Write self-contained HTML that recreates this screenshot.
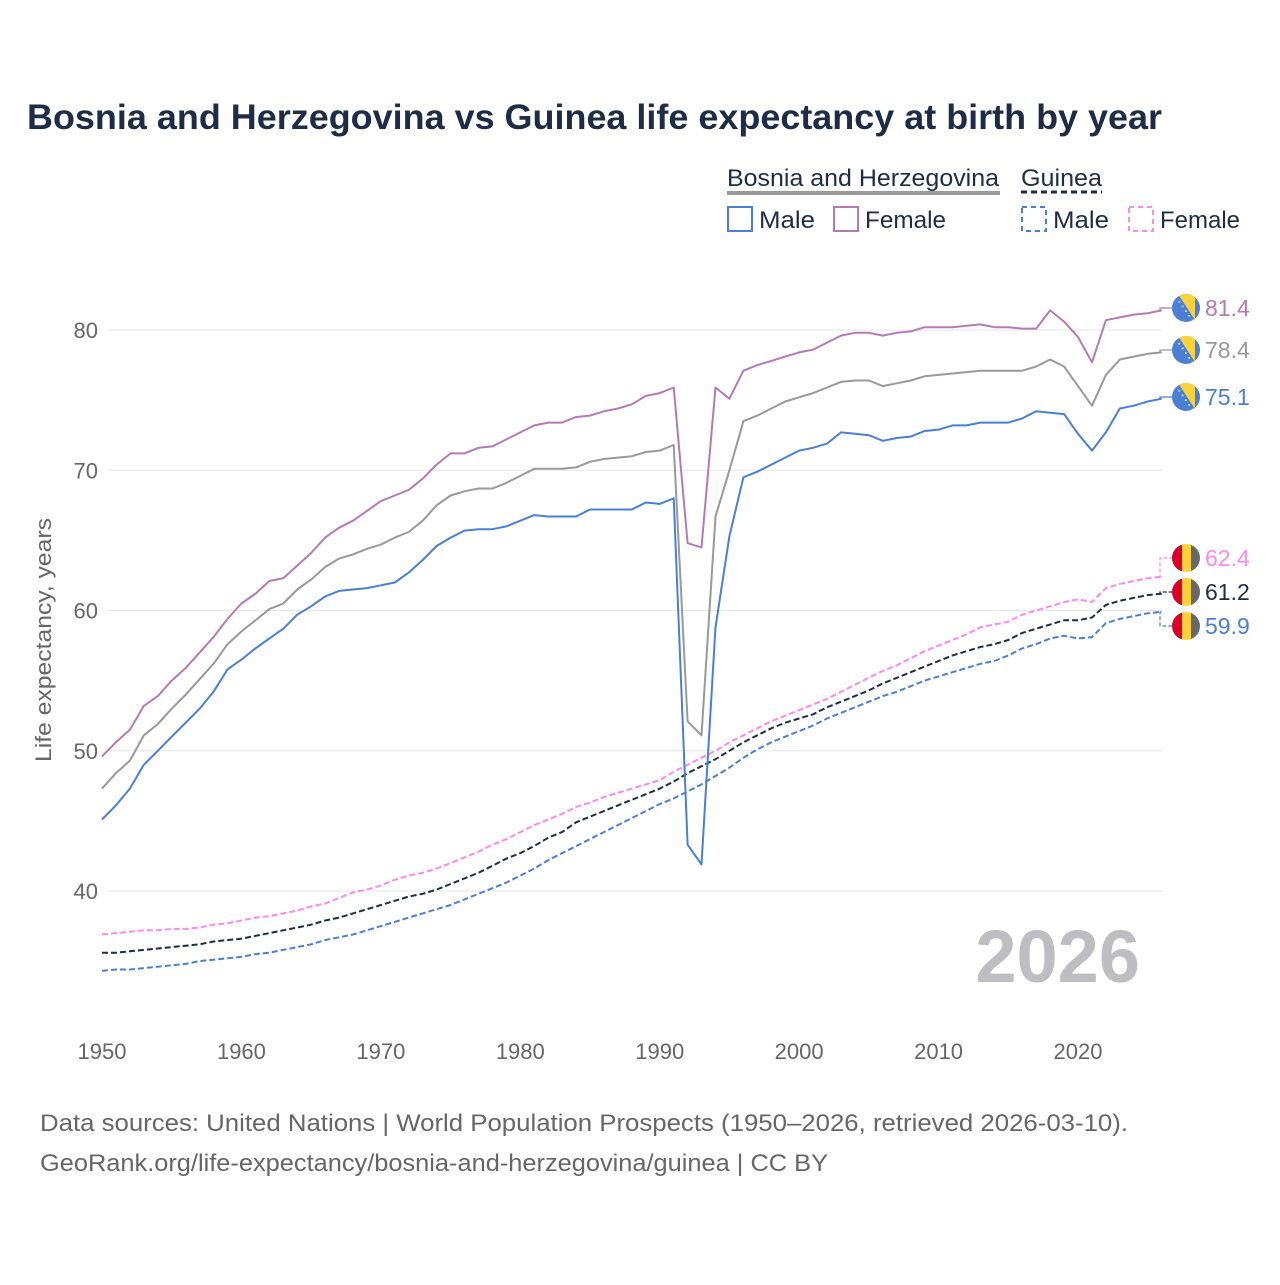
<!DOCTYPE html>
<html><head><meta charset="utf-8"><style>
body{margin:0;background:#fff;}
svg text{font-family:"Liberation Sans",sans-serif;}
</style></head><body>
<svg id="chart" width="1280" height="1280" xmlns="http://www.w3.org/2000/svg">
<text x="27" y="129" font-size="35" font-weight="bold" fill="#1e2d45" textLength="1135" lengthAdjust="spacingAndGlyphs">Bosnia and Herzegovina vs Guinea life expectancy at birth by year</text>
<g font-size="24" fill="#1e2d45">
<text x="727" y="186" textLength="272" lengthAdjust="spacingAndGlyphs">Bosnia and Herzegovina</text>
<line x1="727" y1="193" x2="1000" y2="193" stroke="#999" stroke-width="4"/>
<text x="1021" y="186" textLength="81" lengthAdjust="spacingAndGlyphs">Guinea</text>
<line x1="1021" y1="192" x2="1102" y2="192" stroke="#1e2d45" stroke-width="3" stroke-dasharray="6,4"/>
<rect x="728" y="207" width="24" height="24" fill="none" stroke="#4a7fd4" stroke-width="2"/>
<text x="759" y="228" textLength="56" lengthAdjust="spacingAndGlyphs">Male</text>
<rect x="834" y="207" width="24" height="24" fill="none" stroke="#b57ab5" stroke-width="2"/>
<text x="865" y="228" textLength="81" lengthAdjust="spacingAndGlyphs">Female</text>
<rect x="1022" y="207" width="24" height="24" fill="none" stroke="#4a7fd4" stroke-width="2" stroke-dasharray="5,4"/>
<text x="1053" y="228" textLength="56" lengthAdjust="spacingAndGlyphs">Male</text>
<rect x="1129" y="207" width="24" height="24" fill="none" stroke="#ff88ee" stroke-width="2" stroke-dasharray="5,4"/>
<text x="1160" y="228" textLength="80" lengthAdjust="spacingAndGlyphs">Female</text>
</g>
<g id="grid"></g>
<g id="series"></g>
<g id="endlabels"></g>
<text transform="translate(51,640) rotate(-90)" text-anchor="middle" font-size="22" fill="#666" textLength="244" lengthAdjust="spacingAndGlyphs">Life expectancy, years</text>
<text x="1140" y="982" text-anchor="end" font-size="74" font-weight="bold" fill="#bdbdc2">2026</text>
<text x="40" y="1131" font-size="24" fill="#666" textLength="1088" lengthAdjust="spacingAndGlyphs">Data sources: United Nations | World Population Prospects (1950–2026, retrieved 2026-03-10).</text>
<text x="40" y="1171" font-size="24" fill="#666" textLength="788" lengthAdjust="spacingAndGlyphs">GeoRank.org/life-expectancy/bosnia-and-herzegovina/guinea | CC BY</text>
</svg>
<script>
const yearStart = 1950;
const yTicks = [40, 50, 60, 70, 80];
const xTicks = [1950, 1960, 1970, 1980, 1990, 2000, 2010, 2020];
const bihFemale = [49.6,50.6,51.5,53.2,53.9,55.0,55.9,57.0,58.1,59.4,60.5,61.2,62.1,62.3,63.2,64.1,65.2,65.9,66.4,67.1,67.8,68.2,68.6,69.4,70.4,71.2,71.2,71.6,71.7,72.2,72.7,73.2,73.4,73.4,73.8,73.9,74.2,74.4,74.7,75.3,75.5,75.9,64.8,64.5,75.9,75.1,77.1,77.5,77.8,78.1,78.4,78.6,79.1,79.6,79.8,79.8,79.6,79.8,79.9,80.2,80.2,80.2,80.3,80.4,80.2,80.2,80.1,80.1,81.4,80.6,79.5,77.7,80.7,80.9,81.1,81.2,81.4];
const bihTotal = [47.3,48.4,49.3,51.1,51.9,53.0,54.0,55.1,56.2,57.6,58.5,59.3,60.1,60.5,61.5,62.2,63.1,63.7,64.0,64.4,64.7,65.2,65.6,66.4,67.5,68.2,68.5,68.7,68.7,69.1,69.6,70.1,70.1,70.1,70.2,70.6,70.8,70.9,71.0,71.3,71.4,71.8,52.1,51.1,66.7,70.0,73.5,73.9,74.4,74.9,75.2,75.5,75.9,76.3,76.4,76.4,76.0,76.2,76.4,76.7,76.8,76.9,77.0,77.1,77.1,77.1,77.1,77.4,77.9,77.4,76.0,74.6,76.8,77.9,78.1,78.3,78.4];
const bihMale = [45.1,46.1,47.3,49.0,50.0,51.0,52.0,53.0,54.2,55.8,56.5,57.3,58.0,58.7,59.7,60.3,61.0,61.4,61.5,61.6,61.8,62.0,62.7,63.6,64.6,65.2,65.7,65.8,65.8,66.0,66.4,66.8,66.7,66.7,66.7,67.2,67.2,67.2,67.2,67.7,67.6,68.0,43.3,41.9,58.8,65.3,69.5,69.9,70.4,70.9,71.4,71.6,71.9,72.7,72.6,72.5,72.1,72.3,72.4,72.8,72.9,73.2,73.2,73.4,73.4,73.4,73.7,74.2,74.1,74.0,72.6,71.4,72.7,74.4,74.6,74.9,75.1];
const ginFemale = [36.9,37.0,37.1,37.2,37.2,37.3,37.3,37.4,37.6,37.7,37.9,38.1,38.2,38.4,38.6,38.9,39.1,39.5,39.9,40.1,40.4,40.8,41.1,41.3,41.6,42.0,42.4,42.8,43.3,43.7,44.2,44.7,45.1,45.5,46.0,46.3,46.7,47.0,47.3,47.6,47.9,48.5,49.0,49.5,50.0,50.6,51.1,51.6,52.1,52.5,52.9,53.3,53.7,54.2,54.7,55.2,55.7,56.1,56.6,57.1,57.5,57.9,58.3,58.8,59.0,59.2,59.7,60.0,60.3,60.6,60.8,60.6,61.6,61.9,62.1,62.3,62.4];
const ginTotal = [35.6,35.6,35.7,35.8,35.9,36.0,36.1,36.2,36.4,36.5,36.6,36.8,37.0,37.2,37.4,37.6,37.9,38.1,38.4,38.7,39.0,39.3,39.6,39.8,40.1,40.5,40.9,41.3,41.8,42.3,42.7,43.2,43.8,44.2,44.9,45.3,45.7,46.1,46.5,46.9,47.3,47.8,48.4,48.9,49.4,50.0,50.6,51.1,51.6,52.0,52.3,52.6,53.1,53.5,53.9,54.3,54.8,55.2,55.6,56.0,56.4,56.8,57.1,57.4,57.6,57.9,58.4,58.7,59.0,59.3,59.3,59.5,60.4,60.7,60.9,61.1,61.2];
const ginMale = [34.3,34.4,34.4,34.5,34.6,34.7,34.8,35.0,35.1,35.2,35.3,35.5,35.6,35.8,36.0,36.2,36.5,36.7,36.9,37.2,37.5,37.8,38.1,38.4,38.7,39.0,39.4,39.8,40.2,40.6,41.1,41.6,42.2,42.7,43.2,43.7,44.2,44.7,45.2,45.7,46.2,46.6,47.1,47.6,48.2,48.8,49.5,50.1,50.6,51.0,51.4,51.8,52.3,52.7,53.1,53.5,53.9,54.2,54.6,55.0,55.3,55.6,55.9,56.2,56.4,56.8,57.3,57.6,58.0,58.2,58.0,58.1,59.1,59.4,59.6,59.8,59.9];

const NS = "http://www.w3.org/2000/svg";
const x = yr => 102 + (yr - 1950) * 13.943;
const y = v => 330 + (80 - v) * 14.025;
function mk(tag, attrs, parent){const e=document.createElementNS(NS,tag);for(const k in attrs)e.setAttribute(k,attrs[k]);parent.appendChild(e);return e;}
const grid = document.getElementById('grid');
yTicks.forEach(t=>{
  const l = mk('line',{x1:108,x2:1162,y1:y(t),y2:y(t),stroke:'#e6e6e6','stroke-width':1},grid);
  
  
  const tx = mk('text',{x:98,y:y(t)+8,'text-anchor':'end','font-size':22,fill:'#666'},grid);
  tx.textContent = t;
  
  
});
xTicks.forEach(t=>{
  const tx = mk('text',{x:x(t),y:1059,'text-anchor':'middle','font-size':22,fill:'#666'},grid);
  tx.textContent = t;
  
  
});
const series = document.getElementById('series');
function line(data,color,dash,name){
  const pts = data.map((v,i)=>x(yearStart+i).toFixed(1)+','+y(v).toFixed(1)).join(' ');
  const p = mk('polyline',{points:pts,fill:'none',stroke:color,'stroke-width':2,'stroke-linejoin':'round'},series);
  if(dash) p.setAttribute('stroke-dasharray',dash);
  
  
}
line(ginMale,'#4a7fd4','6,3','guinea-male-line');
line(ginTotal,'#1e2d45','6,3','guinea-total-line');
line(ginFemale,'#ff88ee','6,3','guinea-female-line');
line(bihMale,'#4a7fd4',null,'bosnia-male-line');
line(bihTotal,'#999999',null,'bosnia-total-line');
line(bihFemale,'#b57ab5',null,'bosnia-female-line');

const el = document.getElementById('endlabels');
const defs = mk('defs',{},el);
const cp = mk('clipPath',{id:'fc'},defs); mk('circle',{cx:0,cy:0,r:14},cp);
function flag(cy,country,name){
  const g = mk('g',{transform:`translate(1186,${cy})`,'clip-path':'url(#fc)'},el);
  
  
  if(country==='bih'){
    mk('rect',{x:-14,y:-14,width:28,height:28,fill:'#4a7fd4'},g);
    mk('polygon',{points:'-8,-14 9,-14 9,12',fill:'#fcd13c'},g);
    for(let i=0;i<6;i++) mk('circle',{cx:-10+i*3.3,cy:-11+i*4.7,r:0.9,fill:'#fff'},g);
  } else {
    mk('rect',{x:-14,y:-14,width:10,height:28,fill:'#d9002c'},g);
    mk('rect',{x:-4,y:-14,width:9,height:28,fill:'#fcd13c'},g);
    mk('rect',{x:5,y:-14,width:9,height:28,fill:'#666a66'},g);
  }
}
const last = bihFemale.length-1, xe = x(yearStart+last);
const ends = [
 [bihFemale,308,'#b57ab5','bih','bosnia-female'],
 [bihTotal,350,'#999999','bih','bosnia-total'],
 [bihMale,397,'#4a7fd4','bih','bosnia-male'],
 [ginFemale,558,'#ff88ee','gin','guinea-female'],
 [ginTotal,592,'#1e2d45','gin','guinea-total'],
 [ginMale,626,'#4a7fd4','gin','guinea-male']
];
ends.forEach(([d,ly,c,country,name])=>{
  const yv = y(d[last]);
  const pl = mk('polyline',{points:`${xe},${yv} 1160,${yv} 1160,${ly} 1172,${ly}`,fill:'none',stroke:c,'stroke-width':1.2},el);
  if(country==='gin') pl.setAttribute('stroke-dasharray','4,2');
  
  
  flag(ly,country,name+'-flag');
  const t = mk('text',{x:1205,y:ly+8,'font-size':23,fill:c},el);
  t.textContent = d[last].toFixed(1);
  
  
});
</script>
</body></html>
